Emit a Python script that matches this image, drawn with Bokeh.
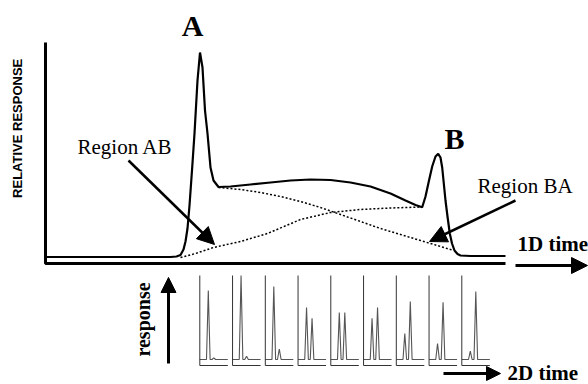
from bokeh.plotting import figure
from bokeh.models import Range1d, Arrow, NormalHead
from bokeh.core.properties import value
from bokeh.embed import file_html
from bokeh.resources import INLINE
import math

# Canvas units: x to the right, y downward (pixel-like layout units)
W, H = 588, 384

# First-dimension chromatogram (total signal)
trace_x = [45, 170, 176, 180, 183, 185, 187, 189, 191.7, 194, 197, 199.5, 202, 204.5, 207, 210, 213, 218,
           230, 250, 270, 290, 310, 330, 350, 370, 390, 405, 415, 421.7,
           425, 428.5, 431.7, 435, 437.7, 440, 441.7, 443.5, 445, 447, 449.3, 451.5, 454, 457, 460, 470, 505]
trace_y = [256.5, 256.5, 256, 254.5, 249, 241, 228, 205, 167, 133, 80, 52, 67, 110, 133, 167, 180, 186.5,
           186, 184, 182, 180, 179, 179.5, 182, 186, 193, 200, 204.5, 206.7,
           196, 180, 166, 156, 153.3, 157, 167, 185, 200, 216, 233, 243, 250, 253.5, 255, 255.5, 255.5]

# Tail of compound A (dotted)
tail_a_x = [218, 240, 260, 280, 300, 320, 340, 360, 380, 400, 420, 440, 453]
tail_a_y = [187, 189, 192, 196, 201, 207, 214, 221, 228, 234, 240, 246, 250]

# Front of compound B (dotted)
front_b_x = [180, 195, 213, 240, 267, 300, 330, 360, 390, 422]
front_b_y = [257, 253, 247, 241, 233, 219, 212, 209, 207.5, 206.5]

# Second-dimension modulations: relative heights of peak A and peak B
mod_peak_a = [0.82, 1.00, 0.87, 0.62, 0.56, 0.49, 0.31, 0.19, 0.10]
mod_peak_b = [0.02, 0.04, 0.125, 0.49, 0.56, 0.62, 0.69, 0.68, 0.81]

SERIF = "Liberation Serif"
SANS = "Liberation Sans"

p = figure(width=W, height=H, x_range=Range1d(0, W), y_range=Range1d(H, 0),
           output_backend="svg", toolbar_location=None, min_border=0)
p.axis.visible = False
p.grid.visible = False
p.outline_line_color = None
p.background_fill_color = "white"
p.border_fill_color = "white"

# Axes of the main chromatogram
p.line([45, 45, 505], [42, 263, 263], line_color="black", line_width=3)

# Main trace and the two underlying contributions
p.line(trace_x, trace_y, line_color="black", line_width=2.2)
p.line(tail_a_x, tail_a_y, line_color="black", line_width=1.5, line_dash="2 2")
p.line(front_b_x, front_b_y, line_color="black", line_width=1.5, line_dash="2 2")

# Small second-dimension chromatograms
panel_left, panel_step = 199.3, 32.75
panel_base, panel_top, panel_bottom = 359.0, 275.0, 365.0
panel_w, off_a, off_b, half = 28.0, 8.5, 14.0, 1.8
for i, (ha, hb) in enumerate(zip(mod_peak_a, mod_peak_b)):
    x0 = panel_left + i * panel_step
    span = panel_base - panel_top
    px = [x0, x0 + off_a - half, x0 + off_a, x0 + off_a + half,
          x0 + off_b - half, x0 + off_b, x0 + off_b + half, x0 + panel_w]
    py = [panel_base, panel_base, panel_base - ha * span, panel_base,
          panel_base, panel_base - hb * span, panel_base, panel_base]
    p.line(px, py, line_color="#555555", line_width=1.1)
    p.line([x0, x0, x0 + panel_w], [panel_top, panel_bottom, panel_bottom],
           line_color="#333333", line_width=1)

# Arrows
def arrow(x0, y0, x1, y1, lw, size):
    p.add_layout(Arrow(end=NormalHead(size=size, fill_color="black", line_color="black"),
                       x_start=x0, y_start=y0, x_end=x1, y_end=y1,
                       line_width=lw, line_color="black"))

arrow(128, 160, 214, 244, 2.5, 17)
arrow(515, 200, 429, 241, 2.5, 17)
arrow(515, 265, 587, 265, 3, 16)
arrow(443, 373, 500, 373, 3, 14)
arrow(168, 363, 168, 277, 3, 15)

# Labels
def label(x, y, s, size, font=SERIF, style="normal", align="left", angle=0.0):
    p.text(x=[x], y=[y], text=[s], text_font=value(font), text_font_size=f"{size}px",
           text_font_style=style, text_align=align, text_baseline="middle",
           angle=angle, text_color="black")

label(192, 25, "A", 30, style="bold", align="center")
label(454, 138, "B", 30, style="bold", align="center")
label(77, 146, "Region AB", 21)
label(477, 185, "Region BA", 21)
label(517, 243, "1D time", 21, style="bold")
label(507, 372, "2D time", 21, style="bold")
label(17, 126, "RELATIVE  RESPONSE", 13, font=SANS, style="bold", align="center", angle=math.pi / 2)
label(142, 319, "response", 20, style="bold", align="center", angle=math.pi / 2)

open("out.html", "w").write(file_html(p, INLINE))
